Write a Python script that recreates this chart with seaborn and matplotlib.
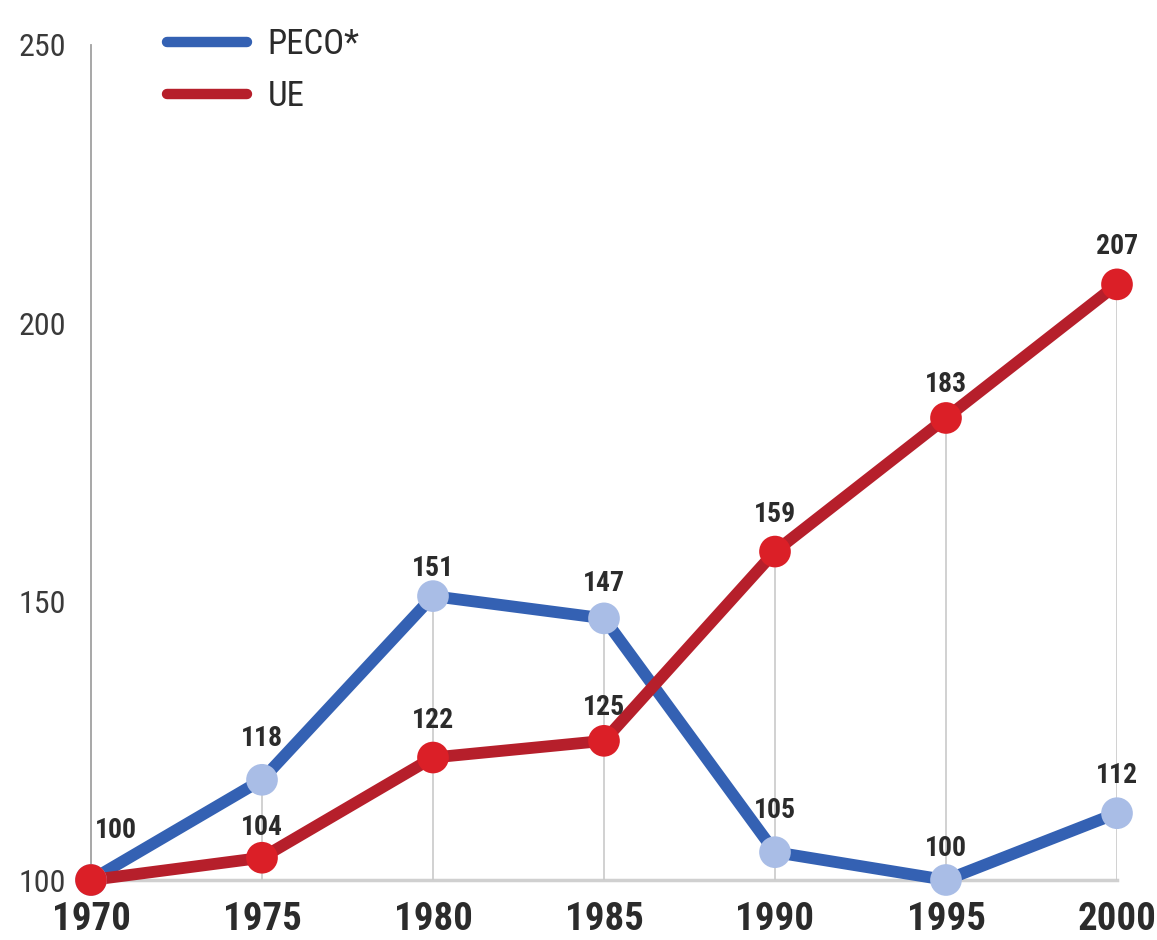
import matplotlib
matplotlib.use("Agg")
import matplotlib.pyplot as plt
import seaborn as sns
import pandas as pd
import numpy as np

years = [1970, 1975, 1980, 1985, 1990, 1995, 2000]
peco = [100, 118, 151, 147, 105, 100, 112]
ue = [100, 104, 122, 125, 159, 183, 207]
series_names = ["PECO*", "UE"]
y_ticks = [100, 150, 200, 250]

sns.set_theme(style="white")
plt.rcParams["font.family"] = ["Roboto Condensed", "Archivo Narrow", "DejaVu Sans"]

df = pd.DataFrame({
    "year": years * 2,
    "value": peco + ue,
    "serie": [series_names[0]] * len(years) + [series_names[1]] * len(years),
})

line_colors = {"PECO*": "#3461b3", "UE": "#b61f2b"}
marker_colors = {"PECO*": "#a9bde6", "UE": "#db1f27"}

fig = plt.figure(figsize=(11.57, 9.40), dpi=100)
ax = fig.add_axes([91 / 1157, 1 - 880 / 940, (1117 - 91) / 1157, (880 - 45) / 940])

# drop lines
tops = np.maximum(peco, ue)
ax.vlines(years, 100, tops, color="#c9c9c9", lw=1.2, zorder=1)

sns.lineplot(data=df, x="year", y="value", hue="serie", palette=line_colors,
             lw=8.5, ax=ax, zorder=3, solid_capstyle="round",
             hue_order=series_names)
for name in series_names:
    sub = df[df.serie == name]
    sns.scatterplot(data=sub, x="year", y="value", color=marker_colors[name],
                    s=520, edgecolor="none", ax=ax, zorder=4, legend=False,
                    clip_on=False)
for l in ax.lines:
    l.set_clip_on(False)

ax.set_xlim(1970, 2000)
ax.set_ylim(100, 250)
ax.set_xticks(years)
ax.set_xticklabels([str(y) for y in years])
ax.set_yticks(y_ticks)
ax.set_yticklabels([str(v) for v in y_ticks])
ax.set_xlabel("")
ax.set_ylabel("")

for lab in ax.get_xticklabels():
    lab.set_fontsize(28)
    lab.set_fontweight("bold")
    lab.set_color("#2b2b2b")
for lab in ax.get_yticklabels():
    lab.set_fontsize(23)
    lab.set_color("#3a3a3a")
    lab.set_horizontalalignment("left")
ax.tick_params(axis="x", length=0, pad=15)
ax.tick_params(axis="y", length=0, pad=52)

ax.set_yticks([250], minor=True)
ax.tick_params(axis="y", which="minor", direction="in", length=10, width=1.2, color="#9a9a9a")

for s in ["top", "right"]:
    ax.spines[s].set_visible(False)
ax.spines["left"].set_color("#a0a0a0")
ax.spines["left"].set_linewidth(1.3)
ax.spines["bottom"].set_color("#d0d0d0")
ax.spines["bottom"].set_linewidth(2.5)
ax.spines["bottom"].set_zorder(0)

# value labels
def lab(x, y, text, dy=27, dx=0):
    ax.annotate(text, (x, y), xytext=(dx, dy), textcoords="offset points",
                ha="center", va="center", fontsize=20, fontweight="bold",
                color="#2b2b2b", zorder=6, annotation_clip=False)

peco_dy = {1975: 30, 1980: 20, 1985: 25, 1990: 30, 1995: 23}
ue_dy = {1975: 22, 1985: 24, 1995: 24}
for i, yr in enumerate(years):
    if yr == 1970:
        lab(yr, ue[i], str(ue[i]), dy=36, dx=18)
        continue
    lab(yr, peco[i], str(peco[i]), dy=peco_dy.get(yr, 27))
    lab(yr, ue[i], str(ue[i]), dy=ue_dy.get(yr, 27))

leg = ax.legend(loc="upper left", bbox_to_anchor=(167 / 1157, 1 - 28 / 940),
                bbox_transform=fig.transFigure, frameon=False, fontsize=25,
                handlelength=2.3, handletextpad=0.6, labelspacing=0.55,
                borderpad=0, borderaxespad=0, title=None)
for h in leg.get_lines():
    h.set_linewidth(7.5)
    h.set_solid_capstyle("round")
for t in leg.get_texts():
    t.set_color("#2b2b2b")

fig.savefig("out.png", dpi=100, facecolor="white")
